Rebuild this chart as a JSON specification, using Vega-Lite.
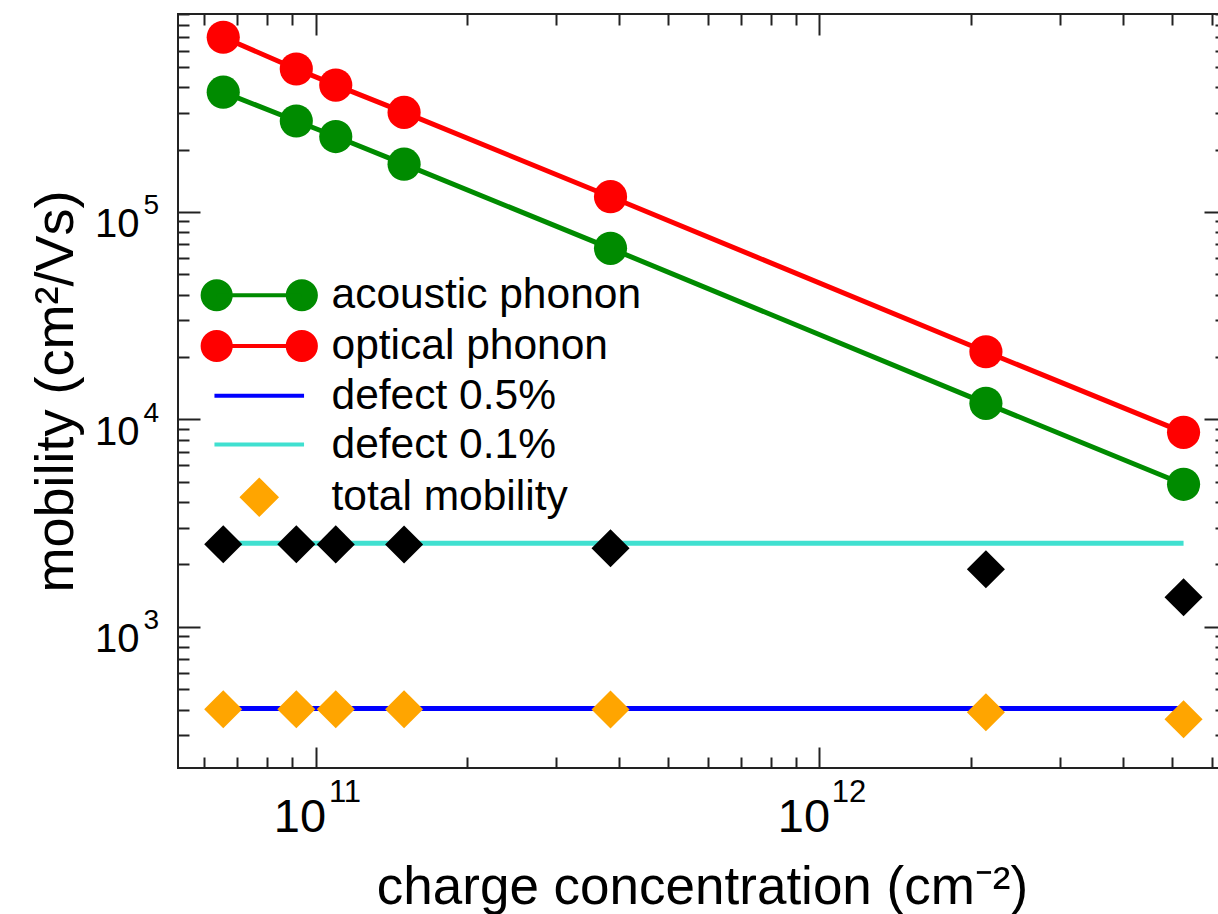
{
  "$schema": "https://vega.github.io/schema/vega-lite/v6.json",
  "autosize": {"type": "none"},
  "padding": {"left": 178, "top": 14, "right": -8, "bottom": 146},
  "width": 1048,
  "height": 754,
  "background": "white",
  "view": {"stroke": "#222", "strokeWidth": 2},
  "config": {"font": "Liberation Sans"},
  "data": {
    "values": [
      {"series": "acoustic phonon", "x": 6.56e10, "y": 378000},
      {"series": "acoustic phonon", "x": 9.16e10, "y": 274500},
      {"series": "acoustic phonon", "x": 1.097e11, "y": 231000},
      {"series": "acoustic phonon", "x": 1.499e11, "y": 170000},
      {"series": "acoustic phonon", "x": 3.85e11, "y": 66800},
      {"series": "acoustic phonon", "x": 2.14e12, "y": 11960},
      {"series": "acoustic phonon", "x": 5.28e12, "y": 4870},
      {"series": "optical phonon", "x": 6.56e10, "y": 695000},
      {"series": "optical phonon", "x": 9.16e10, "y": 489000},
      {"series": "optical phonon", "x": 1.097e11, "y": 409000},
      {"series": "optical phonon", "x": 1.499e11, "y": 302000},
      {"series": "optical phonon", "x": 3.85e11, "y": 118500},
      {"series": "optical phonon", "x": 2.14e12, "y": 21200},
      {"series": "optical phonon", "x": 5.28e12, "y": 8670},
      {"series": "defect 0.5%", "x": 6.56e10, "y": 405},
      {"series": "defect 0.5%", "x": 9.16e10, "y": 405},
      {"series": "defect 0.5%", "x": 1.097e11, "y": 405},
      {"series": "defect 0.5%", "x": 1.499e11, "y": 405},
      {"series": "defect 0.5%", "x": 3.85e11, "y": 405},
      {"series": "defect 0.5%", "x": 2.14e12, "y": 405},
      {"series": "defect 0.5%", "x": 5.28e12, "y": 405},
      {"series": "defect 0.1%", "x": 6.56e10, "y": 2530},
      {"series": "defect 0.1%", "x": 9.16e10, "y": 2530},
      {"series": "defect 0.1%", "x": 1.097e11, "y": 2530},
      {"series": "defect 0.1%", "x": 1.499e11, "y": 2530},
      {"series": "defect 0.1%", "x": 3.85e11, "y": 2530},
      {"series": "defect 0.1%", "x": 2.14e12, "y": 2530},
      {"series": "defect 0.1%", "x": 5.28e12, "y": 2530},
      {"series": "total mobility", "x": 6.56e10, "y": 401},
      {"series": "total mobility", "x": 9.16e10, "y": 401},
      {"series": "total mobility", "x": 1.097e11, "y": 401},
      {"series": "total mobility", "x": 1.499e11, "y": 401},
      {"series": "total mobility", "x": 3.85e11, "y": 400},
      {"series": "total mobility", "x": 2.14e12, "y": 388},
      {"series": "total mobility", "x": 5.28e12, "y": 359},
      {"series": "total 0.1%", "x": 6.56e10, "y": 2503},
      {"series": "total 0.1%", "x": 9.16e10, "y": 2503},
      {"series": "total 0.1%", "x": 1.097e11, "y": 2500},
      {"series": "total 0.1%", "x": 1.499e11, "y": 2495},
      {"series": "total 0.1%", "x": 3.85e11, "y": 2393},
      {"series": "total 0.1%", "x": 2.14e12, "y": 1897},
      {"series": "total 0.1%", "x": 5.28e12, "y": 1390}
    ]
  },
  "resolve": {"axis": {"x": "independent", "y": "independent"}},
  "layer": [
    {
      "transform": [{"filter": {"field": "series", "oneOf": ["acoustic phonon", "optical phonon", "defect 0.5%", "defect 0.1%"]}}],
      "mark": {"type": "line", "strokeWidth": 5},
      "encoding": {
        "x": {"field": "x", "type": "quantitative",
          "scale": {"type": "log", "domain": [5.335e10, 6.41e12], "nice": false},
          "axis": {"orient": "bottom", "values": [1e11, 1e12], "tickSize": -21, "tickWidth": 2, "tickColor": "#222",
            "domain": false, "grid": false, "labelExpr": "'10'",
            "labelFontSize": 47, "labelColor": "black", "labelPadding": 47, "labelBaseline": "top", "labelOffset": -16,
            "labelFlush": false, "labelOverlap": false,
            "title": "charge concentration (cm⁻²)", "titleFontSize": 53, "titleFontWeight": "normal",
            "titleColor": "black", "titleBaseline": "alphabetic", "titleY": 135}},
        "y": {"field": "y", "type": "quantitative",
          "scale": {"type": "log", "domain": [209, 900000], "nice": false},
          "axis": {"orient": "left", "values": [1000, 10000, 100000], "tickSize": -22, "tickWidth": 2, "tickColor": "#222",
            "domain": false, "grid": false, "labelExpr": "'10'",
            "labelFontSize": 40, "labelColor": "black", "labelPadding": 61, "labelBaseline": "alphabetic", "labelOffset": 25,
            "labelFlush": false, "labelOverlap": false,
            "title": "mobility (cm²/Vs)", "titleFontSize": 54, "titleFontWeight": "normal",
            "titleColor": "black", "titleBaseline": "alphabetic", "titleX": -106}},
        "color": {"field": "series", "type": "nominal",
          "scale": {"domain": ["acoustic phonon", "optical phonon", "defect 0.5%", "defect 0.1%", "total mobility"],
                    "range": ["#008b00", "#ff0000", "#0000ff", "#40e0d0", "#ffa500"]}}
      }
    },
    {
      "transform": [{"filter": {"field": "series", "oneOf": ["acoustic phonon", "optical phonon"]}}],
      "mark": {"type": "point", "shape": "circle", "filled": true, "opacity": 1, "size": 1100},
      "encoding": {
        "x": {"field": "x", "type": "quantitative",
          "axis": {"orient": "bottom", "values": [6e10, 7e10, 8e10, 9e10, 2e11, 3e11, 4e11, 5e11, 6e11, 7e11, 8e11, 9e11, 2e12, 3e12, 4e12, 5e12, 6e12],
            "tickSize": -11, "tickWidth": 2, "tickColor": "#222", "domain": false, "grid": false, "labels": false, "title": null}},
        "y": {"field": "y", "type": "quantitative",
          "axis": {"orient": "left", "values": [300, 400, 500, 600, 700, 800, 900, 2000, 3000, 4000, 5000, 6000, 7000, 8000, 9000, 20000, 30000, 40000, 50000, 60000, 70000, 80000, 90000, 200000, 300000, 400000, 500000, 600000, 700000, 800000, 900000],
            "tickSize": -11, "tickWidth": 2, "tickColor": "#222", "domain": false, "grid": false, "labels": false, "title": null}},
        "color": {"field": "series", "type": "nominal",
          "scale": {"domain": ["acoustic phonon", "optical phonon", "defect 0.5%", "defect 0.1%", "total mobility"],
                    "range": ["#008b00", "#ff0000", "#0000ff", "#40e0d0", "#ffa500"]}}
      }
    },
    {
      "transform": [{"filter": {"field": "series", "equal": "total 0.1%"}}],
      "mark": {"type": "point", "shape": "diamond", "filled": true, "opacity": 1, "size": 1450, "color": "black"},
      "encoding": {
        "x": {"field": "x", "type": "quantitative",
          "axis": {"orient": "top", "values": [1e11, 1e12], "tickSize": -21, "tickWidth": 2, "tickColor": "#222",
            "domain": false, "grid": false, "labels": false, "title": null}},
        "y": {"field": "y", "type": "quantitative",
          "axis": {"orient": "right", "values": [1000, 10000, 100000], "tickSize": -22, "tickWidth": 2, "tickColor": "#222",
            "domain": false, "grid": false, "labels": false, "title": null}}
      }
    },
    {
      "transform": [{"filter": {"field": "series", "equal": "total mobility"}}],
      "mark": {"type": "point", "shape": "diamond", "filled": true, "opacity": 1, "size": 1450},
      "encoding": {
        "x": {"field": "x", "type": "quantitative",
          "axis": {"orient": "top", "values": [6e10, 7e10, 8e10, 9e10, 2e11, 3e11, 4e11, 5e11, 6e11, 7e11, 8e11, 9e11, 2e12, 3e12, 4e12, 5e12, 6e12],
            "tickSize": -11, "tickWidth": 2, "tickColor": "#222", "domain": false, "grid": false, "labels": false, "title": null}},
        "y": {"field": "y", "type": "quantitative",
          "axis": {"orient": "right", "values": [300, 400, 500, 600, 700, 800, 900, 2000, 3000, 4000, 5000, 6000, 7000, 8000, 9000, 20000, 30000, 40000, 50000, 60000, 70000, 80000, 90000, 200000, 300000, 400000, 500000, 600000, 700000, 800000, 900000],
            "tickSize": -11, "tickWidth": 2, "tickColor": "#222", "domain": false, "grid": false, "labels": false, "title": null}},
        "color": {"field": "series", "type": "nominal",
          "scale": {"domain": ["acoustic phonon", "optical phonon", "defect 0.5%", "defect 0.1%", "total mobility"],
                    "range": ["#008b00", "#ff0000", "#0000ff", "#40e0d0", "#ffa500"]}}
      }
    },
    {
      "transform": [{"filter": "datum.x < 0"}],
      "mark": {"type": "point", "filled": true, "opacity": 1},
      "encoding": {
        "x": {"field": "x", "type": "quantitative",
          "axis": {"orient": "bottom", "values": [1e11, 1e12], "ticks": false, "domain": false, "grid": false,
            "labelExpr": "datum.value < 5e11 ? '11' : '12'", "labelFontSize": 31, "labelColor": "black",
            "labelPadding": 9, "labelBaseline": "top", "labelOffset": 29, "labelFlush": false, "labelOverlap": false, "title": null}},
        "y": {"field": "y", "type": "quantitative",
          "axis": {"orient": "left", "values": [1000, 10000, 100000], "ticks": false, "domain": false, "grid": false,
            "labelExpr": "datum.value < 5000 ? '3' : datum.value < 50000 ? '4' : '5'", "labelFontSize": 28, "labelColor": "black",
            "labelPadding": 35, "labelAlign": "left", "labelBaseline": "alphabetic", "labelOffset": 2, "labelFlush": false, "labelOverlap": false, "title": null}},
        "color": {"field": "series", "type": "nominal",
          "scale": {"domain": ["acoustic phonon", "optical phonon", "defect 0.5%", "defect 0.1%", "total mobility"],
                    "range": ["#008b00", "#ff0000", "#0000ff", "#40e0d0", "#ffa500"]},
          "legend": {"title": null, "orient": "none", "legendX": 60, "legendY": 260, "padding": 0,
            "symbolSize": 1024, "symbolStrokeWidth": 4, "labelFontSize": 42.5, "labelColor": "black",
            "labelLimit": 0, "labelOffset": 51, "rowPadding": 5.75, "labelBaseline": "middle",
            "encode": {"symbols": {"update": {"fill": {"scale": "color", "field": "value"}, "stroke": {"scale": "color", "field": "value"}, "strokeWidth": {"value": 4}, "opacity": {"value": 1}}}}}},
        "shape": {"field": "series", "type": "nominal",
          "scale": {"domain": ["acoustic phonon", "optical phonon", "defect 0.5%", "defect 0.1%", "total mobility"],
                    "range": [
                      "M-2.66,0L2.66,0M-3.54,0a0.88,0.88 0 1,0 1.76,0a0.88,0.88 0 1,0 -1.76,0ZM1.78,0a0.88,0.88 0 1,0 1.76,0a0.88,0.88 0 1,0 -1.76,0Z",
                      "M-2.66,0L2.66,0M-3.54,0a0.88,0.88 0 1,0 1.76,0a0.88,0.88 0 1,0 -1.76,0ZM1.78,0a0.88,0.88 0 1,0 1.76,0a0.88,0.88 0 1,0 -1.76,0Z",
                      "M-2.8,0L2.8,0",
                      "M-2.8,0L2.8,0",
                      "M-1.06,0L0,-1.06L1.06,0L0,1.06Z"]},
          "legend": {"title": null, "orient": "none", "legendX": 60, "legendY": 260, "padding": 0,
            "symbolSize": 1024, "symbolStrokeWidth": 4, "labelFontSize": 42.5, "labelColor": "black",
            "labelLimit": 0, "labelOffset": 51, "rowPadding": 5.75, "labelBaseline": "middle",
            "encode": {"symbols": {"update": {"fill": {"scale": "color", "field": "value"}, "stroke": {"scale": "color", "field": "value"}, "strokeWidth": {"value": 4}, "opacity": {"value": 1}}}}}}
      }
    }
  ]
}
